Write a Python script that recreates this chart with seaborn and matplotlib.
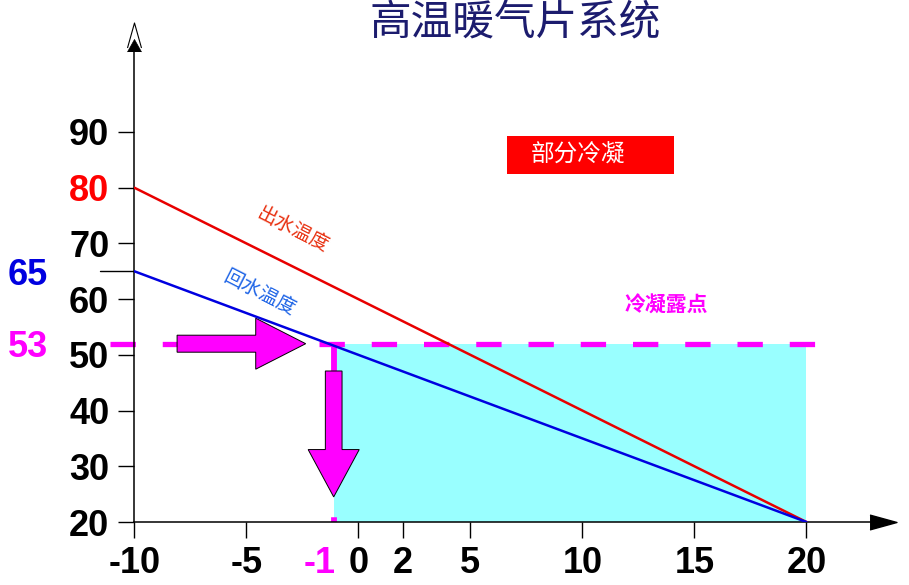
import numpy as np
import pandas as pd
import matplotlib
matplotlib.use('Agg')
import matplotlib.pyplot as plt
import seaborn as sns
from matplotlib.patches import Rectangle

# --- DATA ---
outdoor_temp = [-10, 20]
supply_temp = [80, 20]
return_temp = [65, 20]

dew_x = -1.1          # outdoor temp where return line meets dew point
dew_y = 52            # dew point line as drawn
dew_y_label = '53'
return_start_label = '65'

x_ticks = [-10, -5, -1, 0, 2, 5, 10, 15, 20]
x_tick_labels = ['-10', '-5', '-1', '0', '2', '5', '10', '15', '20']
y_ticks = [20, 30, 40, 50, 60, 70, 80, 90]
y_tick_labels = ['20', '30', '40', '50', '60', '70', '80', '90']

title = '高温暖气片系统'
supply_name = '出水温度'
return_name = '回水温度'
dew_name = '冷凝露点'
box_name = '部分冷凝'

df = pd.DataFrame({'outdoor': outdoor_temp * 2,
                   'temp': supply_temp + return_temp,
                   'line': [supply_name] * 2 + [return_name] * 2})

# --- STYLE ---
sns.set_style('ticks')
plt.rcParams['font.family'] = ['Liberation Sans', 'Noto Sans CJK SC', 'DejaVu Sans']
CJK = ['Noto Sans CJK SC', 'DejaVu Sans']
MAGENTA = '#FF00FF'

fig = plt.figure(figsize=(9.09, 5.85), dpi=100)
ax = fig.add_axes([0.14774, 0.10769, 0.8242, 0.83248])
ax.set_xlim(-10, 23.44)
ax.set_ylim(20, 107.4)

# cyan condensing zone
ax.fill_between([dew_x, outdoor_temp[1]], 20, dew_y, color='#99FFFF', lw=0, zorder=1)

# dew point dashed lines
ax.plot([-11.08, 21.2], [dew_y, dew_y], color=MAGENTA, lw=3.8,
        ls=(0, (4.8, 5.1)), clip_on=False, zorder=2)
ax.plot([dew_x, dew_x], [dew_y, 20], color=MAGENTA, lw=4.2,
        ls=(0, (4.8, 5.1)), zorder=2)

# arrows
ax.arrow(-8.09, dew_y, 5.74, 0, width=3.05, head_width=9.15, head_length=2.23,
         length_includes_head=True, fc=MAGENTA, ec='black', lw=0.7, zorder=3)
ax.arrow(dew_x, 47.1, 0, -22.6, width=0.745, head_width=2.28, head_length=8.5,
         length_includes_head=True, fc=MAGENTA, ec='black', lw=0.7, zorder=3)

# supply / return lines
sns.lineplot(data=df, x='outdoor', y='temp', hue='line',
             palette={supply_name: '#E80000', return_name: '#0000E0'},
             linewidth=1.8, legend=False, ax=ax, zorder=4)

# --- AXES ---
for s in ['top', 'right']:
    ax.spines[s].set_visible(False)
for s in ['left', 'bottom']:
    ax.spines[s].set_linewidth(1.1)
    ax.spines[s].set_color('black')

ax.set_xticks(x_ticks, labels=x_tick_labels)
ax.set_yticks(y_ticks, labels=y_tick_labels)
ax.tick_params(axis='both', length=11.5, width=1, color='black',
               labelsize=26, labelcolor='black')
ax.tick_params(axis='x', pad=6)
ax.tick_params(axis='y', pad=6.5)
for lab in ax.get_xticklabels() + ax.get_yticklabels():
    lab.set_fontweight('bold')

xi = x_ticks.index(-1)
ax.get_xticklabels()[xi].set_color(MAGENTA)
ax.get_xticklabels()[xi].set_horizontalalignment('right')
ax.xaxis.get_major_ticks()[xi].tick1line.set_visible(False)
ax.get_yticklabels()[y_ticks.index(80)].set_color('#FF0000')
ax.set_xlabel('')
ax.set_ylabel('')

# extra labels on the left
ax.plot([-11.53, -10], [return_temp[0]] * 2, color='black', lw=1, clip_on=False)
ax.text(-13.85, return_temp[0], return_start_label, color='#0000E0', fontsize=26,
        fontweight='bold', ha='right', va='center_baseline', clip_on=False)
ax.text(-13.85, dew_y, dew_y_label, color=MAGENTA, fontsize=26,
        fontweight='bold', ha='right', va='center_baseline', clip_on=False)

# axis arrowheads
ax.plot([0], [1], transform=ax.transAxes, marker=[(-0.56, -1), (0, 1), (0.56, -1)],
        markersize=18, mfc='white', mec='black', mew=0.8, clip_on=False, zorder=6)
ax.plot([0], [0.992], transform=ax.transAxes, marker=[(-0.56, -1), (0, 0), (0.56, -1)],
        markersize=18, mfc='black', mec='black', mew=0.5, clip_on=False, zorder=6)
ax.plot([1], [0], transform=ax.transAxes, marker=[(-1, -0.55), (1, 0), (-1, 0.55)],
        markersize=19.4, mfc='black', mec='black', clip_on=False, zorder=6)

# --- ANNOTATIONS ---
ax.text(-2.92, 72.4, supply_name, family=CJK, fontsize=14, color='#E83010',
        rotation=-27, rotation_mode='anchor', ha='center', va='center')
ax.text(-4.39, 61.1, return_name, family=CJK, fontsize=14, color='#1E64E6',
        rotation=-27, rotation_mode='anchor', ha='center', va='center')
ax.text(13.74, 58.95, dew_name, family=CJK, fontsize=15, fontweight='bold',
        color=MAGENTA, ha='center', va='center')

ax.add_patch(Rectangle((6.64, 82.5), 7.44, 6.8, color='#FF0000', lw=0, zorder=3))
ax.text(7.71, 85.9, box_name, family=CJK, fontsize=17, color='white',
        ha='left', va='center', zorder=4)

fig.text(0.5666, 0.959, title, family=CJK, fontsize=30, color='#1C1C6E',
         ha='center', va='center')

fig.savefig('out.png', dpi=100)
